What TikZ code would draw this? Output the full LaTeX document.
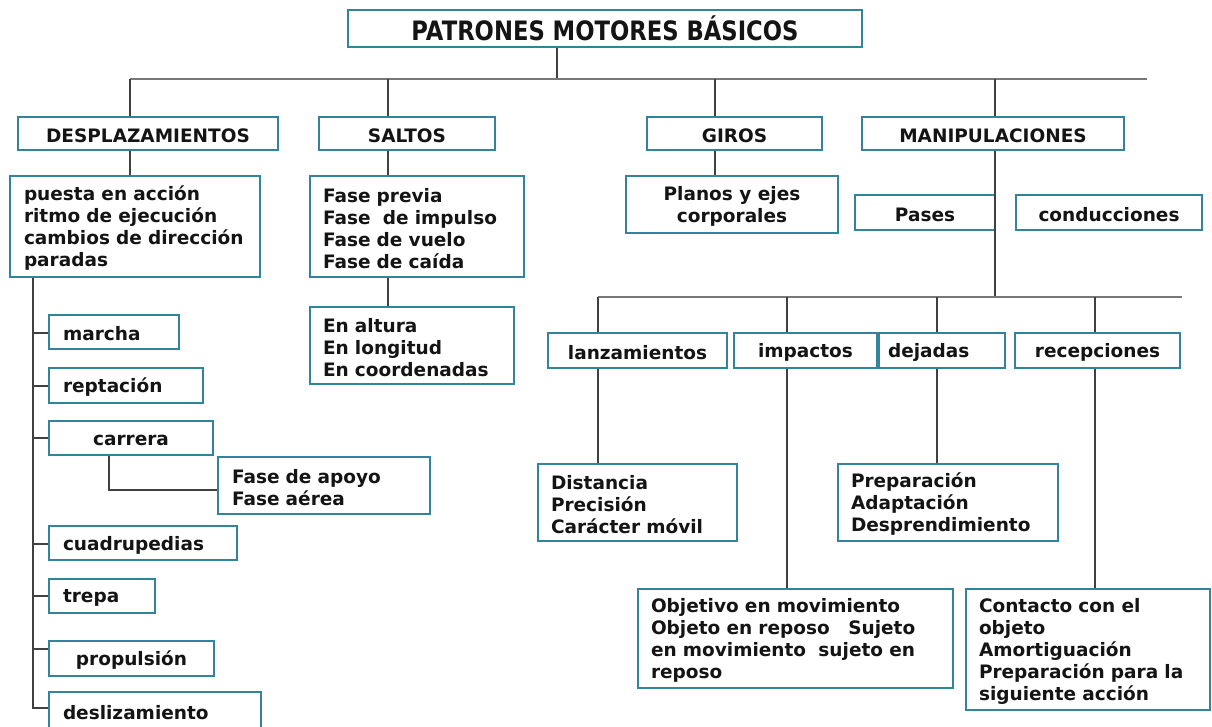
\documentclass[tikz,border=0pt]{standalone}
\usepackage{fontspec}
\setmainfont{DejaVu Sans}
\definecolor{boxc}{RGB}{49,132,155}
\definecolor{linec}{RGB}{64,64,64}
\definecolor{busc}{RGB}{120,120,120}
\definecolor{txtc}{RGB}{20,20,20}
\tikzset{
  bx/.style={draw=boxc, line width=1.3pt, inner sep=0pt},
  tx/.style={inner sep=0pt, text=txtc, font=\bfseries\fontsize{18.5}{22}\selectfont},
  conn/.style={draw=linec, line width=1.5pt},
  bus/.style={draw=busc, line width=2pt}
}
% \boxL{name}{x1}{y1}{x2}{y2}{pad}{text}
\newcommand{\boxL}[7]{%
  \pgfmathsetmacro{\bw}{#4-#2}\pgfmathsetmacro{\bh}{#5-#3}%
  \pgfmathsetmacro{\tw}{#4-#2-2*#6}%
  \node[bx, minimum width=\bw pt, minimum height=\bh pt] (#1) at ({(#2+#4)/2},{(#3+#5)/2}) {};
  \node[tx, align=left, text width=\tw pt] (#1-t) at ([yshift=-2pt]#1.center) {#7};}
\newcommand{\boxC}[6]{%
  \pgfmathsetmacro{\bw}{#4-#2}\pgfmathsetmacro{\bh}{#5-#3}%
  \node[bx, minimum width=\bw pt, minimum height=\bh pt] (#1) at ({(#2+#4)/2},{(#3+#5)/2}) {};
  \node[tx, align=center] (#1-t) at ([yshift=-2pt]#1.center) {#6};}
\begin{document}
\begin{tikzpicture}[x=1pt,y=-1pt]
\useasboundingbox[fill=white] (0,0) rectangle (1212,726);
% title
\node[draw=boxc, line width=1.3pt, inner sep=0pt, minimum width=514pt, minimum height=37pt, text=txtc]
  (title) at (605,28.5) {\scalebox{0.85}[1]{\bfseries\fontsize{26.7}{28}\selectfont PATRONES MOTORES BÁSICOS}};
% level 1
\boxC{desp}{18}{117}{278}{150}{DESPLAZAMIENTOS}
\boxC{saltos}{319}{117}{495}{150}{SALTOS}
\boxC{giros}{647}{117}{822}{150}{GIROS}
\boxC{manip}{862}{117}{1124}{150}{MANIPULACIONES}
% level 2
\boxL{puesta}{10}{176}{260}{277}{14}{puesta en acción\\ritmo de ejecución\\cambios de dirección\\paradas}
\boxL{fases}{310}{176}{524}{277}{13}{Fase previa\\Fase\ \ de impulso\\Fase de vuelo\\Fase de caída}
\boxL{altura}{310}{307}{514}{384}{13}{En altura\\En longitud\\En coordenadas}
\boxC{planos}{626}{176}{838}{233}{Planos y ejes\\corporales}
\boxC{pases}{855}{195}{995}{230}{Pases}
\boxC{cond}{1016}{195}{1202}{230}{conducciones}
% manipulaciones children
\boxC{lanz}{548}{333}{727}{368}{lanzamientos}
\boxC{imp}{734}{333}{877}{368}{impactos}
\boxL{dej}{879}{333}{1005}{368}{9}{dejadas}
\boxC{rec}{1015}{333}{1180}{368}{recepciones}
\boxL{dist}{538}{464}{737}{541}{13}{Distancia\\Precisión\\Carácter móvil}
\boxL{prep}{838}{464}{1058}{541}{13}{Preparación\\Adaptación\\Desprendimiento}
\boxL{obj}{638}{589}{953}{688}{13}{Objetivo en movimiento\\Objeto en reposo\quad Sujeto\\en movimiento\ \ sujeto en\\reposo}
\boxL{cont}{966}{589}{1210}{710}{13}{Contacto con el\\objeto\\Amortiguación\\Preparación para la\\siguiente acción}
% desplazamientos list
\boxL{marcha}{49}{315}{179}{349}{14}{marcha}
\boxL{rept}{49}{368}{203}{403}{14}{reptación}
\boxC{carrera}{49}{421}{213}{455}{carrera}
\boxL{fapoyo}{218}{457}{430}{514}{14}{Fase de apoyo\\Fase aérea}
\boxL{cuad}{49}{526}{237}{560}{14}{cuadrupedias}
\boxL{trepa}{49}{579}{155}{613}{14}{trepa}
\boxC{prop}{49}{641}{214}{676}{propulsión}
\boxL{desl}{49}{692}{261}{730}{14}{deslizamiento}
% coordinates
\coordinate (stem) at (557,79);
\coordinate (busL) at (130,79);
\coordinate (busR) at (1147,79);
\coordinate (jS) at (388,79);
\coordinate (jG) at (715,79);
\coordinate (jM) at (995,79);
\coordinate (b2M) at (995,297);
\coordinate (b2L) at (598,297);
\coordinate (b2R) at (1182,297);
\coordinate (k2) at (787,297);
\coordinate (k3) at (937,297);
\coordinate (k4) at (1095,297);
\coordinate (s1) at (33,333);
\coordinate (s2) at (33,386);
\coordinate (s3) at (33,438);
\coordinate (s4) at (33,544);
\coordinate (s5) at (33,596);
\coordinate (s6) at (33,649);
\coordinate (s7) at (33,708);
\coordinate (c1) at (109,490);
% top connectors
\draw[conn] (title.south -| stem) -- (stem);
\draw[bus] (busL) -- (busR);
\draw[conn] (busL) -- (busL |- desp.north);
\draw[conn] (jS) -- (jS |- saltos.north);
\draw[conn] (jG) -- (jG |- giros.north);
\draw[conn] (jM) -- (jM |- manip.north);
\draw[conn] (desp.south -| busL) -- (puesta.north -| busL);
\draw[conn] (saltos.south -| jS) -- (fases.north -| jS);
\draw[conn] (fases.south -| jS) -- (altura.north -| jS);
\draw[conn] (giros.south -| jG) -- (planos.north -| jG);
\draw[conn] (manip.south -| jM) -- (b2M);
\draw[bus] (b2L) -- (b2R);
\draw[conn] (b2L) -- (b2L |- lanz.north);
\draw[conn] (k2) -- (k2 |- imp.north);
\draw[conn] (k3) -- (k3 |- dej.north);
\draw[conn] (k4) -- (k4 |- rec.north);
\draw[conn] (lanz.south -| b2L) -- (dist.north -| b2L);
\draw[conn] (imp.south -| k2) -- (obj.north -| k2);
\draw[conn] (dej.south -| k3) -- (prep.north -| k3);
\draw[conn] (rec.south -| k4) -- (cont.north -| k4);
% left spine
\draw[conn] (puesta.south -| s1) -- (s7) -- (s7 -| desl.west);
\draw[conn] (s1) -- (s1 -| marcha.west);
\draw[conn] (s2) -- (s2 -| rept.west);
\draw[conn] (s3) -- (s3 -| carrera.west);
\draw[conn] (s4) -- (s4 -| cuad.west);
\draw[conn] (s5) -- (s5 -| trepa.west);
\draw[conn] (s6) -- (s6 -| prop.west);
\draw[conn] (carrera.south -| c1) -- (c1) -- (c1 -| fapoyo.west);
\end{tikzpicture}
\end{document}
